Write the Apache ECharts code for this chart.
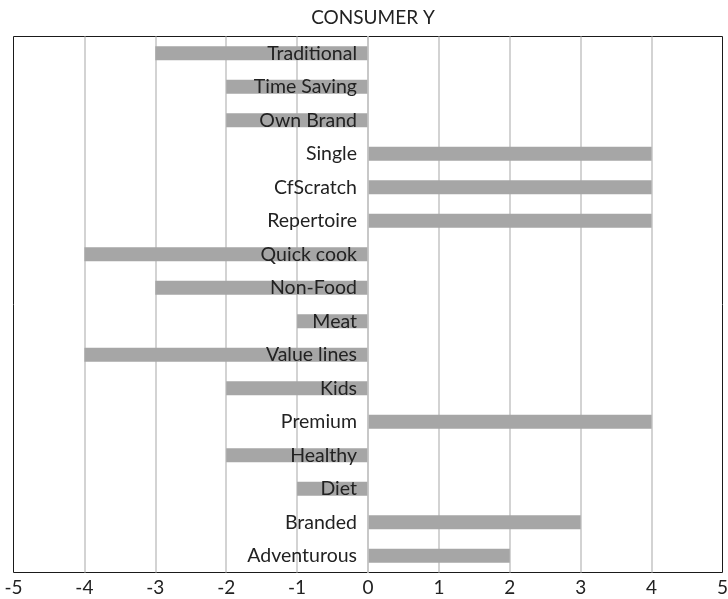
<!DOCTYPE html>
<html>
<head>
<meta charset="utf-8">
<script src="https://cdn.jsdelivr.net/npm/echarts@6/dist/echarts.min.js"></script>
<style>
  html, body { margin: 0; padding: 0; background: #fff; }
  #chart { width: 728px; height: 599px; }
</style>
</head>
<body>
<div id="chart"></div>
<script>
// categories, top to bottom
const categories = ['Traditional', 'Time Saving', 'Own Brand', 'Single', 'CfScratch', 'Repertoire',
    'Quick cook', 'Non-Food', 'Meat', 'Value lines', 'Kids', 'Premium', 'Healthy', 'Diet', 'Branded', 'Adventurous'];
const scores = [-3, -2, -2, 4, 4, 4, -4, -3, -1, -4, -2, 4, -2, -1, 3, 2];
const xTicks = [-5, 5, 1]; // min, max, interval

const fontFamily = 'Lato, "Open Sans", sans-serif';
const chart = echarts.init(document.getElementById('chart'));

// plot box (half pixels keep the border crisp)
const gridLeft = 13.5, gridRight = 5.5;
const plotW = 728 - gridLeft - gridRight;

chart.setOption({
    animation: false,
    title: {
        text: 'CONSUMER Y',
        left: 368,
        top: 3,
        textAlign: 'center',
        textStyle: { fontFamily, fontSize: 19, fontWeight: 'normal', color: '#222' }
    },
    grid: {
        left: gridLeft, right: gridRight, top: 36.5, bottom: 26.5,
        show: true, borderColor: '#1a1a1a', borderWidth: 1,
        outerBoundsMode: 'none'
    },
    xAxis: {
        type: 'value',
        min: xTicks[0], max: xTicks[1], interval: xTicks[2],
        axisLine: { show: false },
        axisTick: { show: false },
        axisLabel: { fontFamily, fontSize: 19, color: '#222', margin: 6 },
        // no split line on the border itself
        splitLine: { showMinLine: false, showMaxLine: false, lineStyle: { color: '#c4c4c4', width: 1.5 } }
    },
    yAxis: {
        type: 'category',
        data: categories,
        inverse: true,
        z: 5,
        // move the category axis to x = 0
        offset: -plotW / 2,
        axisLine: { onZero: false, lineStyle: { color: '#c4c4c4', width: 1.5 } },
        axisTick: { show: false },
        axisLabel: { fontFamily, fontSize: 19.5, color: '#222', margin: 11 }
    },
    series: [{
        type: 'bar',
        data: scores,
        barWidth: 14,
        itemStyle: { color: '#a6a6a6' }
    }]
});
</script>
</body>
</html>
